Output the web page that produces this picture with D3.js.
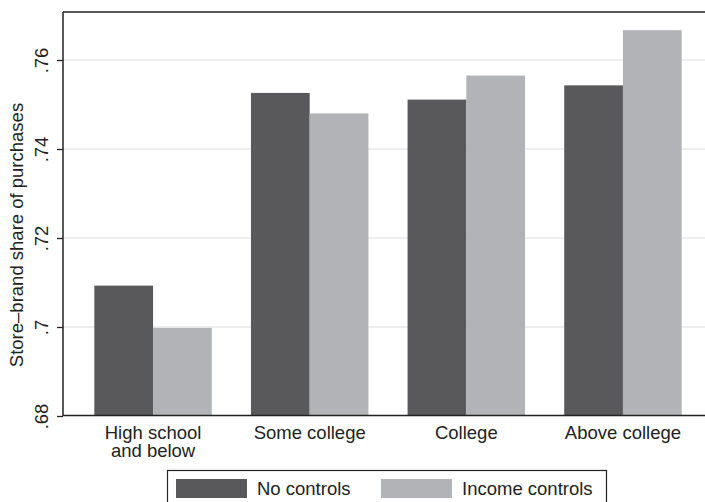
<!DOCTYPE html>
<html>
<head>
<meta charset="utf-8">
<script src="https://cdn.jsdelivr.net/npm/d3@7"></script>
<style>
  html, body { margin: 0; padding: 0; background: #fff; }
  svg { display: block; font-family: "Liberation Sans", Arial, sans-serif; }
</style>
</head>
<body>
<svg id="chart" width="705" height="502"></svg>
<script>
const categories = ["High school|and below", "Some college", "College", "Above college"];
const seriesNames = ["No controls", "Income controls"];
const noControls = [0.7093, 0.7526, 0.7511, 0.7543];
const incomeControls = [0.6998, 0.7480, 0.7565, 0.7667];
const yTicks = [0.68, 0.70, 0.72, 0.74, 0.76];
const yTickLabels = [".68", ".7", ".72", ".74", ".76"];
const yTitle = "Store\u2013brand share of purchases";

const colors = ["#59595b", "#b2b3b6"];
const svg = d3.select("#chart");

const plotLeft = 63, plotRight = 713, plotTop = 12, plotBottom = 416;

const y = d3.scaleLinear().domain([0.68, 0.76]).range([416, 60]);
const x0 = d3.scaleBand().domain(categories).range([plotLeft, plotRight])
  .paddingInner(0.25).paddingOuter(0.2);
const x1 = d3.scaleBand().domain(seriesNames).range([0, x0.bandwidth()]);

// gridlines
svg.append("g").selectAll("line").data(yTicks.slice(1)).join("line")
  .attr("x1", plotLeft).attr("x2", 705)
  .attr("y1", d => y(d)).attr("y2", d => y(d))
  .attr("stroke", "#e8e8e8").attr("stroke-width", 1.5);

// bars
const data = categories.map((c, i) => ({ c, vals: [noControls[i], incomeControls[i]] }));
const g = svg.append("g").selectAll("g").data(data).join("g")
  .attr("transform", d => `translate(${x0(d.c)},0)`);
g.selectAll("rect").data(d => d.vals.map((v, j) => ({ v, s: seriesNames[j], j }))).join("rect")
  .attr("x", d => x1(d.s))
  .attr("width", x1.bandwidth())
  .attr("y", d => y(d.v))
  .attr("height", d => y(0.68) - y(d.v))
  .attr("fill", d => colors[d.j]);

// frame lines
svg.append("line").attr("x1", plotLeft).attr("x2", 705).attr("y1", plotTop).attr("y2", plotTop)
  .attr("stroke", "#222").attr("stroke-width", 1.5);
svg.append("line").attr("x1", plotLeft).attr("x2", 705).attr("y1", plotBottom - 0.5).attr("y2", plotBottom - 0.5)
  .attr("stroke", "#222").attr("stroke-width", 1.5);

// y axis
const yAxis = d3.axisLeft(y).tickValues(yTicks).tickSize(6)
  .tickFormat((d, i) => yTickLabels[i]);
const ya = svg.append("g").attr("transform", `translate(${plotLeft},0)`).call(yAxis);
ya.select(".domain").attr("stroke", "#222").attr("stroke-width", 1.5)
  .attr("d", `M0,${plotTop}V${plotBottom}`);
ya.selectAll(".tick line").attr("stroke", "#222").attr("stroke-width", 1.3);
ya.selectAll(".tick text")
  .attr("x", 0).attr("dy", null).attr("y", 0)
  .attr("transform", "translate(-15,0) rotate(-90)")
  .attr("text-anchor", "middle")
  .attr("font-size", "18.5px")
  .attr("fill", "#222")
  .attr("font-family", "'Liberation Sans', Arial, sans-serif");

// y title
svg.append("text")
  .attr("transform", "translate(23,235) rotate(-90)")
  .attr("text-anchor", "middle")
  .attr("font-size", "18.5px")
  .attr("fill", "#222")
  .text(yTitle);

// x labels
const xl = svg.append("g").selectAll("text").data(categories).join("text")
  .attr("x", d => x0(d) + x0.bandwidth() / 2)
  .attr("y", 439)
  .attr("text-anchor", "middle")
  .attr("font-size", "18.5px")
  .attr("fill", "#222");
xl.each(function(d) {
  const parts = d.split("|");
  const t = d3.select(this);
  parts.forEach((p, i) => {
    t.append("tspan").attr("x", x0(d) + x0.bandwidth() / 2).attr("dy", i === 0 ? 0 : 17.5).text(p);
  });
});

// legend
const leg = svg.append("g");
leg.append("rect").attr("x", 167.5).attr("y", 470.5).attr("width", 439).attr("height", 40)
  .attr("fill", "#fff").attr("stroke", "#222").attr("stroke-width", 1.2);
const legX = [176, 381];
seriesNames.forEach((s, i) => {
  leg.append("rect").attr("x", legX[i]).attr("y", 479).attr("width", 71).attr("height", 19)
    .attr("fill", colors[i]);
  leg.append("text").attr("x", legX[i] + 81).attr("y", 495)
    .attr("font-size", "18.5px").attr("fill", "#222").text(s);
});
</script>
</body>
</html>
